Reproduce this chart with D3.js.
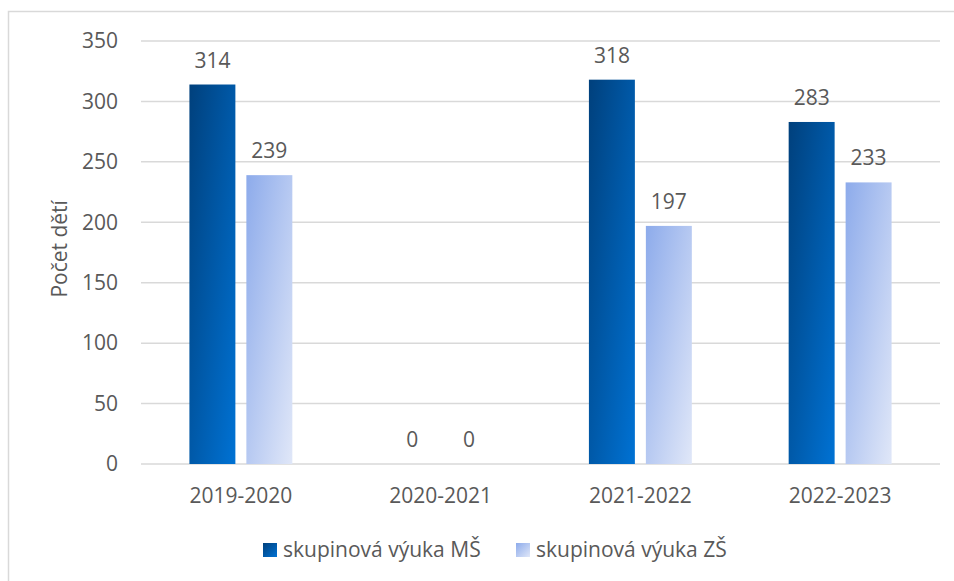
<!DOCTYPE html>
<meta charset="utf-8">
<style>
body { margin: 0; background: #fff; }
text {
  font-family: "Open Sans", sans-serif;
  fill: #595959;
}
.grid line { stroke: #d9d9d9; stroke-width: 1.5px; }
</style>
<svg width="954" height="581"></svg>
<script src="https://cdn.jsdelivr.net/npm/d3@7"></script>
<script>

var years = ["2019-2020", "2020-2021", "2021-2022", "2022-2023"];
var seriesNames = ["skupinová výuka MŠ", "skupinová výuka ZŠ"];
var ms = [314, 0, 318, 283];
var zs = [239, 0, 197, 233];
var yTicks = [0, 50, 100, 150, 200, 250, 300, 350];

var svg = d3.select("svg");

var margin = {left: 141, right: 14, top: 41, bottom: 117};
var width = 954, height = 581;

var x = d3.scaleBand()
    .domain(years)
    .range([margin.left, width - margin.right]);

var y = d3.scaleLinear()
    .domain([0, 350])
    .range([height - margin.bottom, margin.top]);

var x1 = d3.scaleBand()
    .domain([0, 1])
    .range([0, x.bandwidth()])
    .paddingInner(0.193)
    .paddingOuter(0.85);

// outer border
svg.append("rect")
    .attr("x", 8.5).attr("y", 11.5)
    .attr("width", 960).attr("height", 600)
    .attr("fill", "none")
    .attr("stroke", "#d9d9d9")
    .attr("stroke-width", 1.5);

// gradients (diagonal, top-left dark -> bottom-right light)
var defs = svg.append("defs");
var grads = [["g0", "#00407c", "#0072d4"], ["g1", "#8dabeb", "#e0e7f8"]];
grads.forEach(function(g) {
  var lg = defs.append("linearGradient")
      .attr("id", g[0])
      .attr("x1", "0").attr("y1", "0")
      .attr("x2", "1").attr("y2", "1");
  lg.append("stop").attr("offset", "0").attr("stop-color", g[1]);
  lg.append("stop").attr("offset", "1").attr("stop-color", g[2]);
});

// gridlines
svg.append("g")
    .attr("class", "grid")
  .selectAll("line")
  .data(yTicks)
  .enter().append("line")
    .attr("x1", margin.left)
    .attr("x2", width - margin.right)
    .attr("y1", function(d) { return y(d); })
    .attr("y2", function(d) { return y(d); });

// y tick labels
svg.append("g")
  .selectAll("text")
  .data(yTicks)
  .enter().append("text")
    .attr("x", 118)
    .attr("y", function(d) { return y(d); })
    .attr("dy", "0.35em")
    .attr("text-anchor", "end")
    .style("font-size", "21px")
    .text(function(d) { return d; });

// y title
svg.append("text")
    .attr("transform", "translate(67," + (y(178)) + ") rotate(-90)")
    .attr("text-anchor", "middle")
    .style("font-size", "21px")
    .text("Počet dětí");

// bars
var data = years.map(function(yr, i) { return {year: yr, vals: [ms[i], zs[i]]}; });

var groups = svg.append("g")
  .selectAll("g")
  .data(data)
  .enter().append("g")
    .attr("transform", function(d) { return "translate(" + x(d.year) + ",0)"; });

groups.selectAll("rect")
  .data(function(d) { return d.vals; })
  .enter().append("rect")
    .attr("x", function(d, i) { return x1(i); })
    .attr("width", x1.bandwidth())
    .attr("y", function(d) { return y(d); })
    .attr("height", function(d) { return y(0) - y(d); })
    .attr("fill", function(d, i) { return "url(#g" + i + ")"; });

groups.selectAll("text")
  .data(function(d) { return d.vals; })
  .enter().append("text")
    .attr("x", function(d, i) { return x1(i) + x1.bandwidth() / 2; })
    .attr("y", function(d) { return y(d) - 17; })
    .attr("text-anchor", "middle")
    .style("font-size", "21px")
    .text(function(d) { return d; });

// x labels
svg.append("g")
  .selectAll("text")
  .data(years)
  .enter().append("text")
    .attr("x", function(d) { return x(d) + x.bandwidth() / 2; })
    .attr("y", 503)
    .attr("text-anchor", "middle")
    .style("font-size", "21px")
    .text(function(d) { return d; });

// legend
var legendX = [263, 516];
var legend = svg.append("g")
  .selectAll("g")
  .data(seriesNames)
  .enter().append("g")
    .attr("transform", function(d, i) { return "translate(" + legendX[i] + ",543)"; });

legend.append("rect")
    .attr("width", 14).attr("height", 14)
    .attr("fill", function(d, i) { return "url(#g" + i + ")"; });

legend.append("text")
    .attr("x", 20)
    .attr("y", 7)
    .attr("dy", "0.35em")
    .style("font-size", "21px")
    .text(function(d) { return d; });

</script>
